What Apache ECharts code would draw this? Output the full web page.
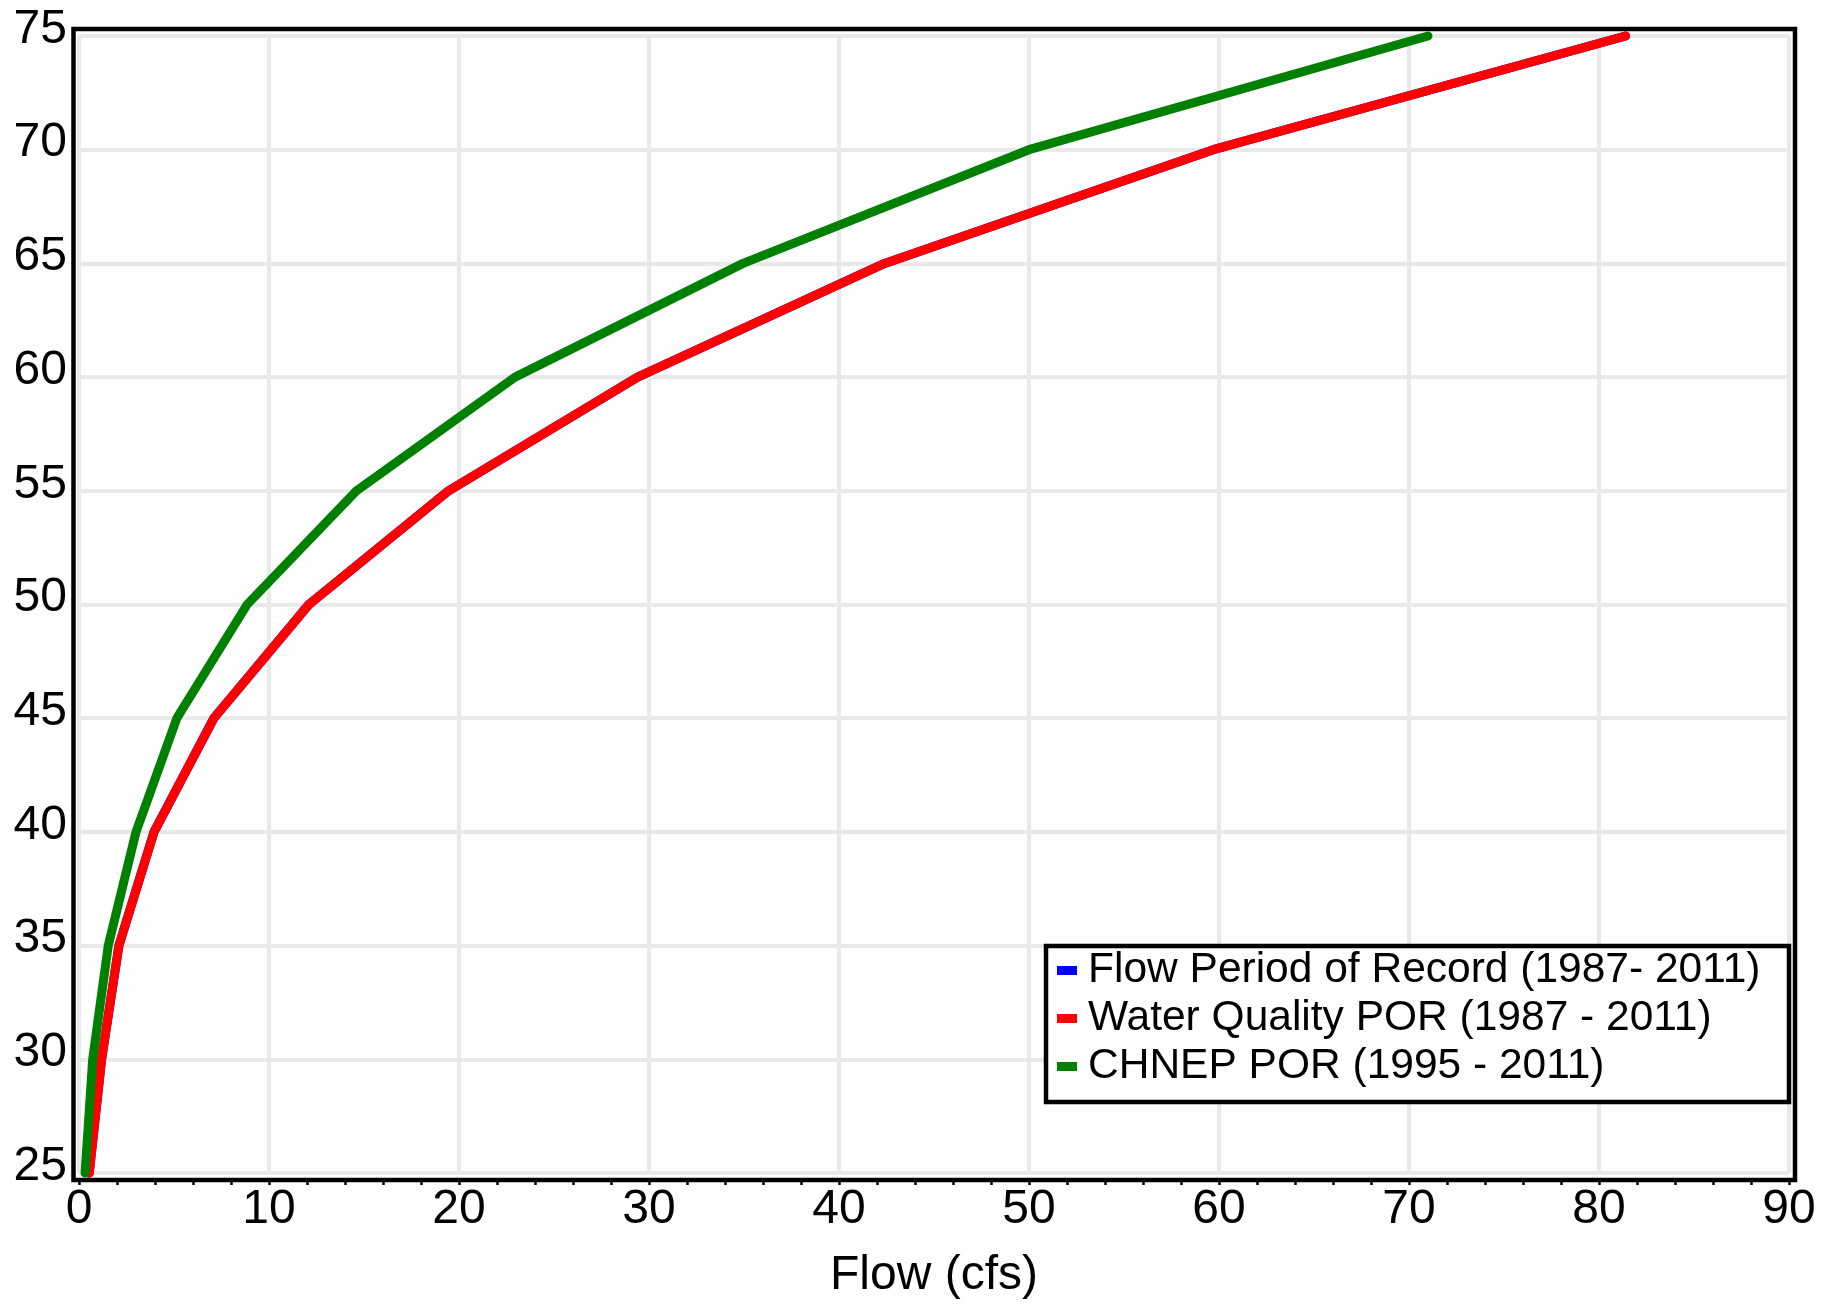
<!DOCTYPE html>
<html>
<head>
<meta charset="utf-8">
<script src="https://cdn.jsdelivr.net/npm/echarts@6/dist/echarts.min.js"></script>
<style>
html,body{margin:0;padding:0;background:#fff;}
#chart{width:1838px;height:1305px;}
</style>
</head>
<body>
<div id="chart"></div>
<script>
// ---- data ----
const seriesNames = ['Flow Period of Record (1987- 2011)', 'Water Quality POR (1987 - 2011)', 'CHNEP POR (1995 - 2011)'];
const levelsY = [25, 30, 35, 40, 45, 50, 55, 60, 65, 70, 75];
const flowPorX = [0.54, 1.19, 2.1, 3.95, 7.1, 12.1, 19.45, 29.4, 42.4, 59.7, 81.4];
const waterQualityX = [0.54, 1.19, 2.1, 3.95, 7.1, 12.1, 19.45, 29.4, 42.4, 59.7, 81.4];
const chnepX = [0.32, 0.72, 1.54, 3.0, 5.15, 8.85, 14.6, 22.95, 34.95, 50.0, 71.0];
const xTicks = { min: 0, max: 90, interval: 10 };
const yTicks = { min: 25, max: 75, interval: 5 };
const xAxisTitle = 'Flow (cfs)';

function pairs(xs, ys) { return xs.map((x, i) => [x, ys[i]]); }

const FONT = "'Liberation Sans', Arial, sans-serif";
const chart = echarts.init(document.getElementById('chart'), null, { renderer: 'canvas' });

const colors = ['#0000ff', '#ff0000', '#008000'];
const xsList = [flowPorX, waterQualityX, chnepX];

chart.setOption({
  animation: false,
  backgroundColor: '#ffffff',
  grid: { left: 79, right: 49, top: 36, bottom: 132, containLabel: false },
  xAxis: {
    type: 'value', min: xTicks.min, max: xTicks.max, interval: xTicks.interval,
    offset: 7,
    name: xAxisTitle, nameLocation: 'middle', nameGap: 72,
    nameTextStyle: { fontFamily: FONT, fontSize: 48, color: '#000' },
    axisLine: { show: false },
    axisTick: { show: true, length: 5, lineStyle: { color: '#000', width: 2.5 } },
    minorTick: { show: true, splitNumber: 5, length: 5, lineStyle: { color: '#000', width: 2.5 } },
    axisLabel: { fontFamily: FONT, fontSize: 48, color: '#000', margin: 6 },
    splitLine: { show: true, lineStyle: { color: '#e9e9e9', width: 4 } }
  },
  yAxis: {
    type: 'value', min: yTicks.min, max: yTicks.max, interval: yTicks.interval,
    axisLine: { show: false },
    axisTick: { show: false },
    axisLabel: { fontFamily: FONT, fontSize: 48, color: '#000', margin: 12, verticalAlign: 'bottom', lineHeight: 13 },
    splitLine: { show: true, lineStyle: { color: '#e9e9e9', width: 4 } }
  },
  legend: {
    orient: 'vertical', left: 1057, top: 949, padding: 0, itemGap: 5,
    icon: 'rect', itemWidth: 20, itemHeight: 9,
    data: seriesNames,
    z: 6,
    textStyle: { fontFamily: FONT, fontSize: 42.5, color: '#000', padding: [0, 0, 0, 6] }
  },
  graphic: [
    { type: 'rect', z: 3, shape: { x: 1046, y: 946, width: 743, height: 156 },
      style: { fill: '#fff', stroke: '#000', lineWidth: 4.5 } },
    { type: 'rect', z: 10, shape: { x: 73.5, y: 29, width: 1721.5, height: 1151 },
      style: { fill: 'none', stroke: '#000', lineWidth: 4.5 } }
  ],
  series: seriesNames.map((name, i) => ({
    name: name,
    type: 'line',
    data: pairs(xsList[i], levelsY),
    symbol: 'none',
    clip: false,
    color: colors[i],
    z: 2 + i,
    lineStyle: { color: colors[i], width: 9, cap: 'round', join: 'round' },
    itemStyle: { color: colors[i] }
  }))
});
</script>
</body>
</html>
